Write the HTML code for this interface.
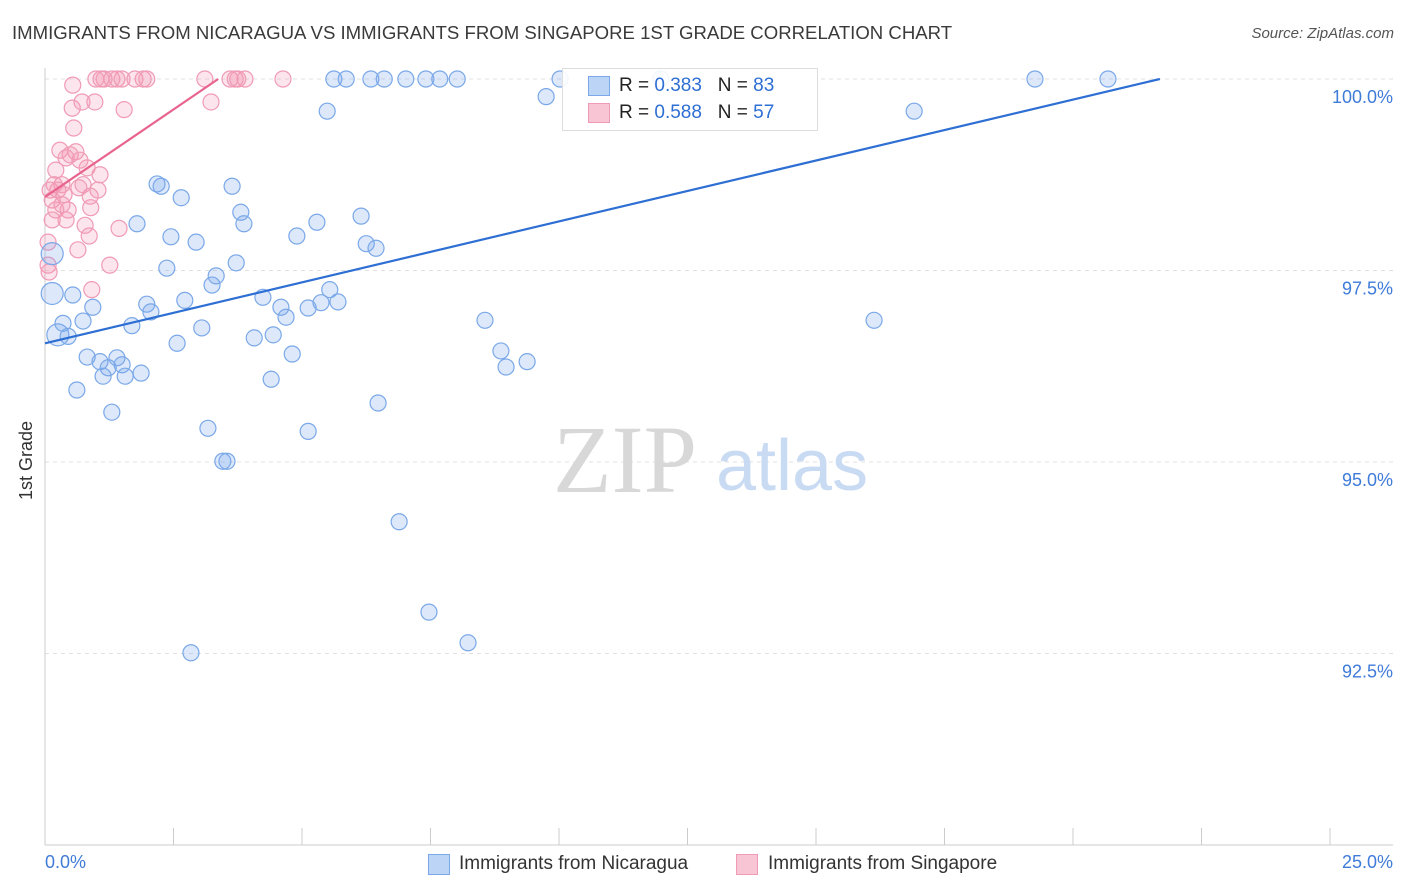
<!DOCTYPE html>
<html><head><meta charset="utf-8"><style>
body{margin:0;background:#fff;font-family:"Liberation Sans",sans-serif;}
#wrap{position:relative;width:1406px;height:892px;overflow:hidden;}
.t{position:absolute;white-space:nowrap;}
</style></head><body>
<div id="wrap">
<div class="t" style="left:12px;top:22px;font-size:18.6px;color:#3a3a3a;">IMMIGRANTS FROM NICARAGUA VS IMMIGRANTS FROM SINGAPORE 1ST GRADE CORRELATION CHART</div>
<div class="t" style="right:12px;top:25px;font-size:15px;color:#555;font-style:italic;">Source: ZipAtlas.com</div>
<div class="t" style="left:16px;top:500px;transform:rotate(-90deg);transform-origin:0 0;font-size:18px;color:#333;">1st Grade</div>
<svg id="svg" width="1406" height="892" style="position:absolute;left:0;top:0"></svg>
</div>
<script>
const blueX=[0.14,0.14,0.25,0.35,0.45,0.54,0.62,0.74,0.82,0.93,1.07,1.13,1.23,1.30,1.40,1.50,1.56,1.69,1.79,1.87,1.98,2.06,2.18,2.26,2.37,2.45,2.57,2.65,2.72,2.84,2.94,3.05,3.17,3.25,3.33,3.46,3.54,3.64,3.72,3.81,3.87,4.07,4.24,4.40,4.44,4.59,4.69,4.81,4.90,5.12,5.12,5.29,5.37,5.54,5.62,5.70,5.86,5.49,6.15,6.25,6.34,6.44,6.48,6.60,6.89,7.02,7.41,7.47,7.68,8.02,8.23,8.56,8.87,8.97,9.38,9.75,10.02,11.98,16.13,16.91,19.26,20.68];
const blueY=[97.72,97.20,96.66,96.81,96.64,97.18,95.94,96.84,96.37,97.02,96.31,96.12,96.23,95.65,96.36,96.27,96.12,96.78,98.11,96.16,97.06,96.96,98.63,98.60,97.53,97.94,96.55,98.45,97.11,92.51,97.87,96.75,95.44,97.31,97.43,95.01,95.01,98.60,97.60,98.26,98.11,96.62,97.15,96.08,96.66,97.02,96.89,96.41,97.95,95.40,97.01,98.13,97.08,97.25,100,97.09,100,99.58,98.21,97.85,100,97.79,95.77,100,94.22,100,100,93.04,100,100,92.64,96.85,96.45,96.24,96.31,99.77,100,100,96.85,99.58,100,100];
const pinkX=[0.06,0.06,0.08,0.10,0.14,0.14,0.18,0.21,0.25,0.29,0.33,0.37,0.41,0.41,0.45,0.49,0.53,0.54,0.56,0.60,0.64,0.66,0.68,0.72,0.74,0.78,0.82,0.86,0.89,0.91,0.97,0.99,1.03,1.07,1.09,1.15,1.26,1.30,1.40,1.44,1.50,1.54,1.75,1.91,1.98,3.11,3.23,3.60,3.70,3.75,3.89,4.63,0.88,0.21,0.33];
const pinkY=[97.87,97.57,97.48,98.55,98.42,98.16,98.62,98.81,98.55,99.07,98.62,98.49,98.16,98.97,98.29,99.01,99.62,99.92,99.36,99.05,97.77,98.58,98.94,99.70,98.62,98.09,98.84,97.95,98.32,97.25,99.70,100,98.55,98.75,100,100,97.57,100,100,98.05,100,99.60,100,100,100,100,99.70,100,100,100,100,100,98.47,98.29,98.36];
const blueTrend=[0,96.55,21.69,100];
const pinkTrend=[0,98.46,3.37,100];
const yTicks=[100,97.5,95,92.5];
const yTickLabels=["100.0%","97.5%","95.0%","92.5%"];
const xTicks=[0,2.5,5,7.5,10,12.5,15,17.5,20,22.5,25];

const sx=v=>45+v*51.4, sy=v=>79+(100-v)*76.6;
const svg=document.getElementById('svg');const NS='http://www.w3.org/2000/svg';
function mk(t,a){const e=document.createElementNS(NS,t);for(const k in a)e.setAttribute(k,a[k]);svg.appendChild(e);return e;}
yTicks.forEach((v,i)=>{
 const g=mk('line',{x1:45,x2:1393,y1:sy(v),y2:sy(v),stroke:'#e0e0e0','stroke-dasharray':'4,4'});
 
 
 const t=mk('text',{x:1393,y:sy(v)+24,'text-anchor':'end','font-size':18,fill:'#3f7bd8','font-family':'Liberation Sans'});
 t.textContent=yTickLabels[i];
 
 
});
xTicks.forEach(v=>{const l=mk('line',{x1:sx(v),x2:sx(v),y1:828,y2:845,stroke:'#ccc'});
 
 });
let a=mk('line',{x1:45,x2:45,y1:68,y2:845,stroke:'#ccc'});
a=mk('line',{x1:45,x2:1393,y1:845,y2:845,stroke:'#ccc'});
let wm=mk('text',{x:553,y:492,'font-size':96,fill:'#d8d8d8','font-family':'Liberation Serif'});wm.textContent='ZIP';


wm=mk('text',{x:716,y:490,'font-size':72,fill:'#c9dbf3','font-family':'Liberation Sans'});wm.textContent='atlas';


pinkX.forEach((x,i)=>{const c=mk('circle',{cx:sx(x),cy:sy(pinkY[i]),r:8,fill:'rgba(242,150,180,0.25)',stroke:'#f09ab6','stroke-width':1.2});
 
 });
blueX.forEach((x,i)=>{const c=mk('circle',{cx:sx(x),cy:sy(blueY[i]),r:i<3?11:8,fill:'rgba(120,165,235,0.25)',stroke:'#7aa8e8','stroke-width':1.2});
 
 });
let tl=mk('line',{x1:sx(blueTrend[0]),y1:sy(blueTrend[1]),x2:sx(blueTrend[2]),y2:sy(blueTrend[3]),stroke:'#2e6fd3','stroke-width':2.2});


tl=mk('line',{x1:sx(pinkTrend[0]),y1:sy(pinkTrend[1]),x2:sx(pinkTrend[2]),y2:sy(pinkTrend[3]),stroke:'#e8648e','stroke-width':2.2});


</script>
<div class="t" style="left:562px;top:68px;width:254px;height:61px;border:1px solid #ddd;background:rgba(255,255,255,0.9);">
 <div class="t" style="left:25px;top:7px;width:20px;height:18px;background:#bcd4f5;border:1px solid #7aa8e8;"></div>
 <div class="t" style="left:56px;top:6px;font-size:19px;color:#222;">R = <span style="color:#2e6fd3">0.383</span>&nbsp;&nbsp;&nbsp;N = <span style="color:#2e6fd3">83</span></div>
 <div class="t" style="left:25px;top:34px;width:20px;height:18px;background:#f8c5d5;border:1px solid #f09ab6;"></div>
 <div class="t" style="left:56px;top:33px;font-size:19px;color:#222;">R = <span style="color:#2e6fd3">0.588</span>&nbsp;&nbsp;&nbsp;N = <span style="color:#2e6fd3">57</span></div>
</div>
<div class="t" style="left:45px;top:852px;font-size:18px;color:#3f7bd8;">0.0%</div>
<div class="t" style="right:13px;top:852px;font-size:18px;color:#3f7bd8;">25.0%</div>
<div class="t" style="left:428px;top:854px;width:20px;height:19px;background:#bcd4f5;border:1px solid #7aa8e8;"></div>
<div class="t" style="left:459px;top:853px;font-size:19px;color:#333;">Immigrants from Nicaragua</div>
<div class="t" style="left:736px;top:854px;width:20px;height:19px;background:#f8c5d5;border:1px solid #f09ab6;"></div>
<div class="t" style="left:768px;top:853px;font-size:19px;color:#333;">Immigrants from Singapore</div>
</body></html>
